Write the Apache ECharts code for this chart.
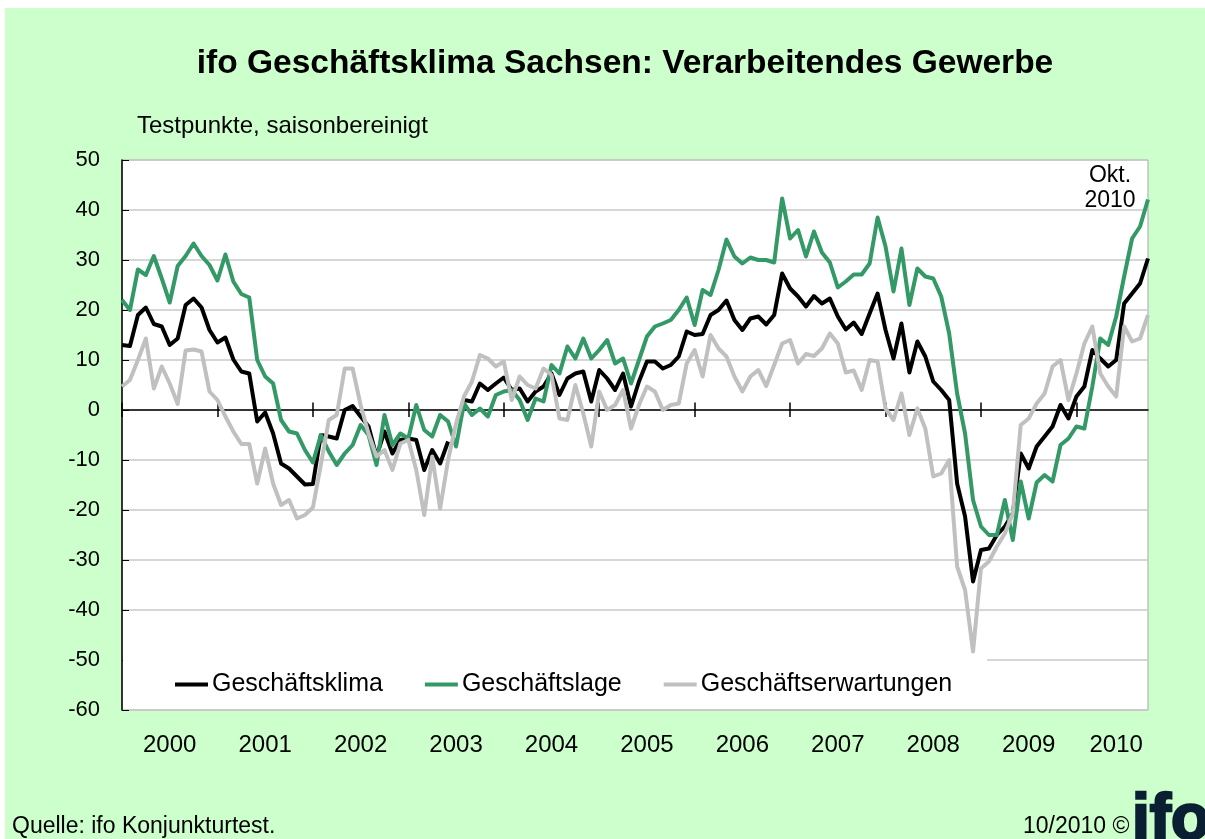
<!DOCTYPE html>
<html>
<head>
<meta charset="utf-8">
<script src="https://cdn.jsdelivr.net/npm/echarts@6/dist/echarts.min.js"></script>
<style>
    html, body { margin: 0; padding: 0; background: #fff; }
    #bg { position: absolute; left: 5px; top: 8px; width: 1200px; height: 831px; background: #ccffcc; }
    #chart { position: absolute; left: 0; top: 0; width: 1205px; height: 839px; }
</style>
</head>
<body>
<div id="bg"></div>
<div id="chart"></div>
<script>
const years = ['2000', '2001', '2002', '2003', '2004', '2005', '2006', '2007', '2008', '2009', '2010'];
const lastMonth = 10; // Okt. 2010

// Geschäftsklima (schwarz)
const klima = [
    13, 12.8, 19, 20.5, 17.2, 16.7, 13, 14.3, 21, 22.3, 20.5, 16,
    13.5, 14.5, 10.1, 7.7, 7.3, -2.3, -0.5, -4.7, -10.7, -11.7, -13.3, -14.9,
    -14.8, -5, -5.3, -5.7, 0, 0.8, -1.3, -3.3, -9.3, -4.3, -8.7, -6,
    -5.7, -6, -12, -8, -10.7, -6.3, null, 2, 1.7, 5.3, 4, 5.3,
    6.5, 4, 4.3, 1.7, 3.7, 4.7, 7.3, 3, 6.3, 7.3, 7.7, 1.7,
    8, 6.3, 4, 7.3, 0.7, 5.7, 9.7, 9.7, 8.3, 9, 10.7, 15.7,
    15, 15.2, 19, 20, 21.9, 18, 16, 18.3, 18.7, 17.1, 19, 27.3,
    24.3, 22.7, 20.7, 22.8, 21.3, 22.3, 18.7, 16.1, 17.5, 15.2, 19.3, 23.3,
    16, 10.3, 17.3, 7.5, 13.7, 10.7, 5.7, 4, 2, -14.7, -21.3, -34.3,
    -28, -27.7, -25, -23.3, -20.7, -8.7, -11.7, -7.3, -5.3, -3.3, 1, -1.7,
    2.7, 4.7, 12, 10.3, 8.7, 10, 21.3, 23.3, 25.3, 30.3
];

// Geschäftslage (grün)
const lage = [
    22, 20, 28.1, 27, 30.8, 26.3, 21.5, 28.8, 30.8, 33.3, 30.8, 29,
    25.9, 31.1, 25.7, 23.2, 22.5, 10, 6.7, 5.3, -2, -4.3, -4.7, -8,
    -10.5, -5, -8.3, -11, -8.7, -7, -3, -5, -11, -1, -7, -4.7,
    -5.7, 1, -4, -5.3, -1, -2.3, -7.3, 1.3, -1, 0.3, -1.3, 3,
    3.7, 4, 2, -2, 2.3, 1.7, 9, 7.3, 12.7, 10.3, 14.3, 10.3,
    12, 14, 9.3, 10.3, 5.3, 10, 14.7, 16.7, 17.3, 18, 20, 22.5,
    17, 24, 23, 28, 34.1, 30.7, 29.3, 30.5, 30, 30, 29.5, 42.3,
    34.3, 36, 30.7, 35.7, 31.5, 29.5, 24.5, 25.7, 27.1, 27.1, 29.3, 38.5,
    32.7, 23.7, 32.3, 21, 28.3, 26.7, 26.3, 22.7, 15.3, 3.3, -4.7, -18,
    -23.3, -25, -25, -18, -26, -14.3, -21.7, -14.5, -13, -14.3, -7, -5.7,
    -3.3, -3.7, 4.7, 14.3, 13, 18.7, 26.7, 34.3, 36.7, 42.1
];

// Geschäftserwartungen (grau)
const erwartungen = [
    4.7, 6, 10, 14.3, 4.3, 8.7, 5.3, 1.2, 11.9, 12.1, 11.7, 3.7,
    2, -1.3, -4.3, -6.8, -6.8, -14.7, -7.7, -14.7, -19, -18, -21.7, -21,
    -19.5, -11, -2, -1, 8.3, 8.3, 1, -4.7, -9.3, -8, -12, -6.7,
    -6, -12, -21, -9.3, -19.7, -10, -2.7, 2.7, 5.7, 11, 10.3, 8.7,
    9.7, 2, 6.7, 5, 4.3, 8.3, 7, -1.7, -2, 5, -0.7, -7.3,
    3.7, 0, 1, 4, -3.7, 1, 4.7, 3.7, 0, 1, 1.3, 9.3,
    12, 6.7, 15, 12.3, 10.7, 6.7, 3.7, 6.7, 8, 4.8, 9, 13.3,
    14, 9.3, 11.2, 10.8, 12.3, 15.3, 13.3, 7.5, 7.9, 4, 10, 9.7,
    0.3, -2, 3.3, -5, 0.3, -3.7, -13.3, -12.7, -10, -31.3, -36, -48.3,
    -31.7, -30.3, -27.3, -24.7, -20.7, -3, -1.7, 1.3, 3.3, 8.7, 10, 2,
    7.3, 13.3, 16.7, 7.3, 4.7, 2.7, 16.7, 13.7, 14.3, 19
];

const seriesNames = ['Geschäftsklima', 'Geschäftslage', 'Geschäftserwartungen'];
const seriesColors = ['#000000', '#339966', '#c0c0c0'];

const months = [];
years.forEach((y, yi) => {
    const n = yi === years.length - 1 ? lastMonth : 12;
    for (let m = 1; m <= n; m++) months.push(y + '-' + (m < 10 ? '0' + m : m));
});

const font = '"Liberation Sans", Arial, sans-serif';
const chart = echarts.init(document.getElementById('chart'));

// year label in the middle of each year span
const yearLabelIdx = (idx) => idx < 120 ? idx % 12 === 6 : idx === 125;

// year ticks crossing the zero line (January of each year)
const yearTicks = years.map(y => [{ coord: [y + '-01', 1.5] }, { coord: [y + '-01', -1.4] }]);

const option = {
    animation: false,
    textStyle: { fontFamily: font },
    grid: {
        left: 122, right: 57, top: 160, bottom: 129,
        show: true, backgroundColor: '#fff', borderColor: '#a6a6a6', borderWidth: 1,
    },
    legend: {
        data: seriesNames,
        left: 170, top: 667,
        icon: 'rect', itemWidth: 33, itemHeight: 4, itemGap: 42,
        textStyle: { fontSize: 25, color: '#000', fontFamily: font, padding: [0, 0, 0, -1] },
    },
    xAxis: [
        {
            type: 'category',
            data: months,
            boundaryGap: false,
            axisLine: { show: false, onZero: false },
            axisTick: { show: false },
            axisLabel: {
                interval: yearLabelIdx,
                formatter: (v) => v.slice(0, 4),
                fontSize: 24, color: '#000', margin: 23, fontFamily: font,
            },
            splitLine: { show: false },
        },
        {
            // zero line
            type: 'category',
            data: months,
            boundaryGap: false,
            axisLine: { show: true, onZero: true, lineStyle: { color: '#000', width: 1.5 } },
            axisTick: { show: false },
            axisLabel: { show: false },
            splitLine: { show: false },
        },
    ],
    yAxis: {
        type: 'value',
        min: -60, max: 50, interval: 10,
        axisLine: { show: true, lineStyle: { color: '#000', width: 1.5 } },
        axisTick: { show: true, inside: true, length: 7, lineStyle: { color: '#000' } },
        axisLabel: { fontSize: 22, color: '#000', margin: 22, fontFamily: font },
        splitLine: { lineStyle: { color: '#c8c8c8', width: 1.5 } },
    },
    series: [klima, lage, erwartungen].map((d, i) => ({
        name: seriesNames[i],
        type: 'line',
        data: d,
        symbol: 'none',
        connectNulls: false,
        z: 3 + i,
        lineStyle: { color: seriesColors[i], width: 4, join: 'round' },
        itemStyle: { color: seriesColors[i] },
        markLine: i === 0 ? {
            silent: true,
            symbol: 'none',
            label: { show: false },
            lineStyle: { color: '#000', width: 1.5, type: 'solid' },
            data: yearTicks,
        } : undefined,
    })),
    graphic: [
        // white box behind the legend
        { type: 'rect', z: 1, shape: { x: 123, y: 656, width: 864, height: 53 }, style: { fill: '#fff' } },
        {
            type: 'text', x: 625, y: 47,
            style: { text: 'ifo Geschäftsklima Sachsen: Verarbeitendes Gewerbe', font: 'bold 33.5px ' + font, fill: '#000', align: 'center' },
        },
        { type: 'text', x: 137, y: 114, style: { text: 'Testpunkte, saisonbereinigt', font: '24px ' + font, fill: '#000' } },
        {
            type: 'text', x: 1110, y: 163, z: 10,
            style: { text: 'Okt.\n2010', font: '23px ' + font, fill: '#000', align: 'center', lineHeight: 25 },
        },
        { type: 'text', x: 12, y: 815, style: { text: 'Quelle: ifo Konjunkturtest.', font: '23px ' + font, fill: '#000' } },
        { type: 'text', x: 1023, y: 815, style: { text: '10/2010 ©', font: '23px ' + font, fill: '#000' } },
        {
            type: 'text', x: 1132, y: 789,
            style: { text: 'ifo', font: '900 64px ' + font, fill: '#0b1f33', stroke: '#0b1f33', lineWidth: 2.5 },
        },
    ],
};

chart.setOption(option);
</script>
</body>
</html>
